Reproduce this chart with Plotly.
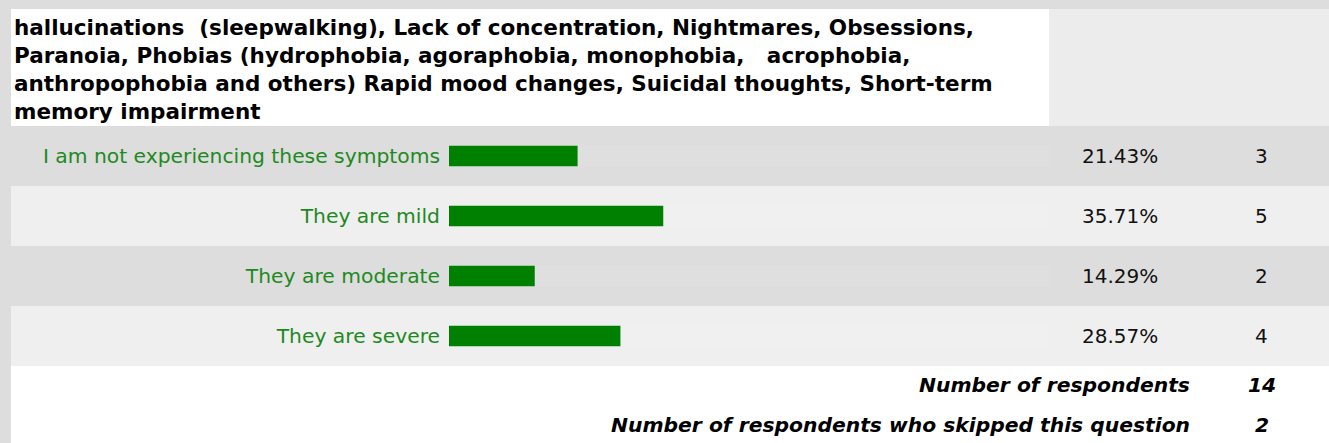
import plotly.graph_objects as go

# survey answers
categories = ["I am not experiencing these symptoms", "They are mild",
              "They are moderate", "They are severe"]
percents = [21.43, 35.71, 14.29, 28.57]
counts = [3, 5, 2, 4]
n_respondents = 14
n_skipped = 2

question = ("hallucinations&nbsp; (sleepwalking), Lack of concentration, Nightmares, Obsessions,<br>"
            "Paranoia, Phobias (hydrophobia, agoraphobia, monophobia, &nbsp; acrophobia,<br>"
            "anthropophobia and others) Rapid mood changes, Suicidal thoughts, Short-term<br>"
            "memory impairment")

W, H = 1329, 443
FONT = "DejaVu Sans"


def px(x):
    return x / W


def py(y):
    return 1 - y / H


fig = go.Figure()

# faint track behind each bar
fig.add_trace(go.Bar(y=categories, x=[100] * len(categories), orientation="h",
                     marker=dict(color="rgba(255,255,255,0.08)", line_width=0),
                     width=0.35, hoverinfo="skip", showlegend=False))
fig.add_trace(go.Bar(y=categories, x=percents, orientation="h",
                     marker=dict(color="#008000", line_width=0),
                     width=0.34, showlegend=False))

shapes = []
# header boxes
shapes.append(dict(type="rect", xref="paper", yref="paper", x0=px(11), x1=px(1049),
                   y0=py(126), y1=py(9), fillcolor="white", line_width=0, layer="below"))
shapes.append(dict(type="rect", xref="paper", yref="paper", x0=px(1049), x1=1,
                   y0=py(126), y1=py(9), fillcolor="#ececec", line_width=0, layer="below"))
# alternating rows
for top in (186, 306):
    shapes.append(dict(type="rect", xref="paper", yref="paper", x0=px(11), x1=1,
                       y0=py(top + 60), y1=py(top), fillcolor="#efefef", line_width=0, layer="below"))
# footer
shapes.append(dict(type="rect", xref="paper", yref="paper", x0=px(11), x1=1,
                   y0=0, y1=py(366), fillcolor="white", line_width=0, layer="below"))

ann = [dict(text="<b>" + question + "</b>", xref="paper", yref="paper", x=px(12), y=py(13),
            xanchor="left", yanchor="top", align="left", showarrow=False,
            font=dict(family=FONT, size=21.5, color="black"))]
for c, p, n in zip(categories, percents, counts):
    ann.append(dict(text=f"{p:.2f}%", xref="paper", yref="y", x=px(1120), y=c,
                    xanchor="center", yanchor="middle",
                    showarrow=False, font=dict(family=FONT, size=20, color="#111")))
    ann.append(dict(text=str(n), xref="paper", yref="y", x=px(1261), y=c,
                    xanchor="center", yanchor="middle",
                    showarrow=False, font=dict(family=FONT, size=20, color="#111")))
footer = [("Number of respondents", n_respondents, 385),
          ("Number of respondents who skipped this question", n_skipped, 425)]
for label, val, y in footer:
    ann.append(dict(text=f"<b><i>{label}</i></b>", xref="paper", yref="paper", x=px(1192), y=py(y),
                    xanchor="right", yanchor="middle", showarrow=False,
                    font=dict(family=FONT, size=20.3, color="black")))
    ann.append(dict(text=f"<b><i>{val}</i></b>", xref="paper", yref="paper", x=px(1262), y=py(y),
                    xanchor="center", yanchor="middle", showarrow=False,
                    font=dict(family=FONT, size=20.3, color="black")))

fig.update_layout(
    width=W, height=H, margin=dict(l=0, r=0, t=0, b=0),
    paper_bgcolor="#dddddd", plot_bgcolor="rgba(0,0,0,0)",
    barmode="overlay", shapes=shapes, annotations=ann,
    xaxis=dict(domain=[px(449), px(1049)], range=[0, 100], visible=False, fixedrange=True),
    yaxis=dict(domain=[py(366), py(126)], autorange="reversed", showgrid=False,
               zeroline=False, ticks="", ticklabelstandoff=8,
               tickfont=dict(family=FONT, size=20.3, color="#1e8a1e"), fixedrange=True),
)

fig.write_html("out.html", config={"displayModeBar": False},
               post_script="document.body.style.margin='0';")
